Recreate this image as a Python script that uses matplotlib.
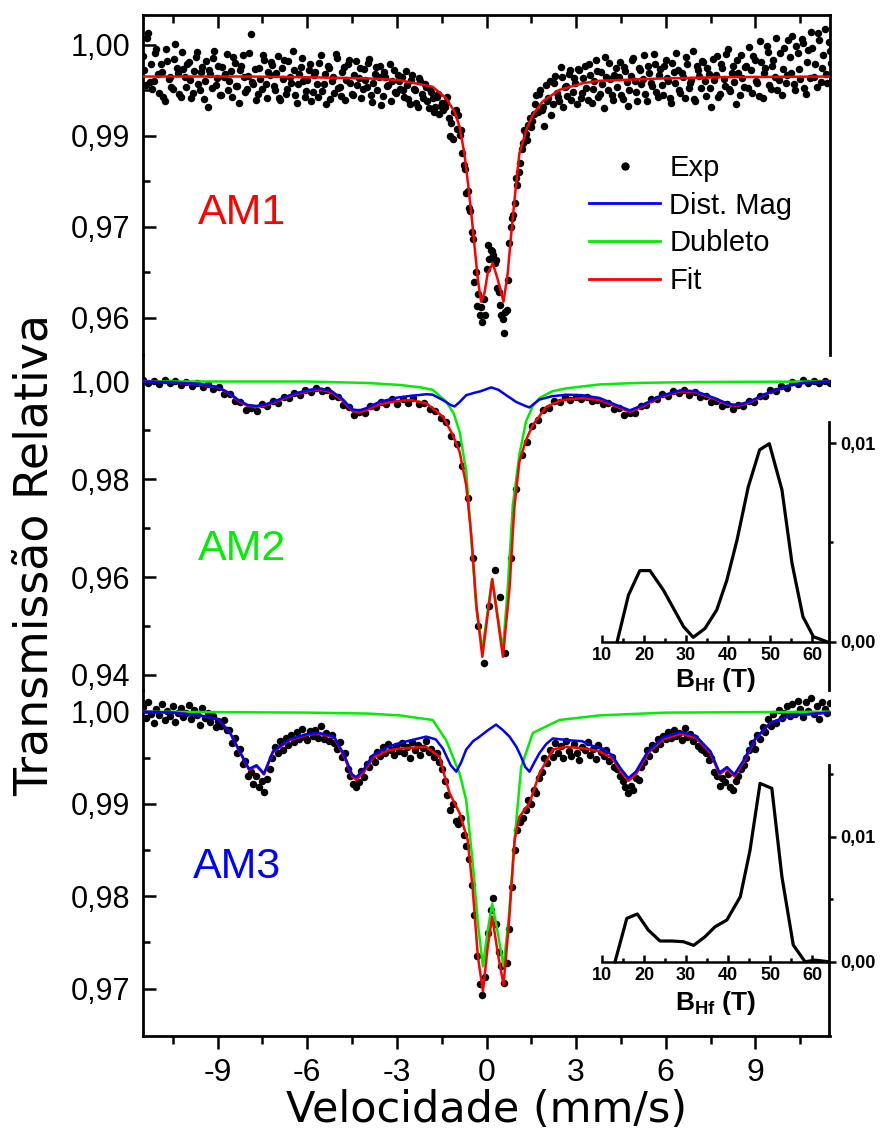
import numpy as np
import matplotlib
matplotlib.use("Agg")
import matplotlib.pyplot as plt
from matplotlib.lines import Line2D

plt.rcParams['font.family'] = ['Liberation Sans', 'DejaVu Sans']
plt.rcParams['mathtext.fontset'] = 'custom'
plt.rcParams['mathtext.rm'] = 'Liberation Sans'
plt.rcParams['mathtext.bf'] = 'Liberation Sans:bold'

# ---------------- data ----------------
VEL_MIN, VEL_MAX = -11.5, 11.5

# AM1 experimental: two halves of the unfolded spectrum (256 channels each)
am1_exp_a = [
 0.9981, 0.9934, 1.0020, 0.9968, 0.9941, 0.9994, 0.9921, 0.9956, 0.9908, 0.9974, 0.9948, 0.9928, 1.0001, 0.9954, 0.9914, 0.9961,
 0.9930, 0.9972, 0.9912, 0.9957, 0.9988, 0.9925, 0.9963, 0.9940, 0.9898, 0.9952, 0.9979, 0.9934, 0.9966, 0.9918, 0.9947, 0.9985,
 0.9941, 0.9915, 0.9970, 0.9932, 0.9958, 0.9984, 0.9922, 0.9949, 1.0018, 0.9936, 0.9910, 0.9962, 0.9928, 0.9975, 0.9913, 0.9951,
 0.9967, 0.9926, 0.9981, 0.9909, 0.9944, 0.9919, 0.9973, 0.9938, 0.9959, 0.9905, 0.9952, 0.9978, 0.9915, 0.9942, 0.9969, 0.9923,
 0.9956, 0.9914, 0.9983, 0.9935, 0.9903, 0.9962, 0.9940, 0.9921, 0.9979, 0.9931, 0.9955, 0.9910, 0.9968, 0.9937, 0.9918, 0.9974,
 0.9945, 0.9912, 0.9960, 0.9930, 0.9977, 0.9906, 0.9952, 0.9925, 0.9966, 0.9916, 0.9948, 0.9934, 0.9908, 0.9958, 0.9921, 0.9941,
 0.9948, 0.9915, 0.9934, 0.9903, 0.9951, 0.9925, 0.9898, 0.9940, 0.9912, 0.9930, 0.9896, 0.9922, 0.9890, 0.9914, 0.9886, 0.9905,
 0.9898, 0.9915, 0.9850, 0.9845, 0.9893, 0.9885, 0.9860, 0.9802, 0.9756, 0.9731, 0.9692, 0.9610, 0.9569, 0.9555, 0.9544, 0.9555,
 0.9670, 0.9662, 0.9654, 0.9646, 0.9593, 0.9555, 0.9525, 0.9563, 0.9673, 0.9714, 0.9739, 0.9769, 0.9805, 0.9838, 0.9854, 0.9868,
 0.9865, 0.9887, 0.9917, 0.9920, 0.9893, 0.9866, 0.9908, 0.9941, 0.9902, 0.9949, 0.9915, 0.9963, 0.9898, 0.9932, 0.9952, 0.9910,
 0.9945, 0.9903, 0.9958, 0.9921, 0.9966, 0.9909, 0.9950, 0.9928, 0.9975, 0.9915, 0.9955, 0.9896, 0.9947, 0.9970, 0.9918, 0.9951,
 0.9930, 0.9972, 0.9911, 0.9957, 0.9900, 0.9949, 0.9979, 0.9923, 0.9962, 0.9935, 0.9984, 0.9907, 0.9953, 0.9932, 0.9969, 0.9915,
 0.9961, 0.9918, 0.9976, 0.9940, 0.9904, 0.9955, 0.9986, 0.9926, 0.9953, 0.9912, 0.9968, 0.9937, 0.9990, 0.9908, 0.9958, 0.9929,
 0.9972, 0.9916, 0.9952, 0.9898, 0.9943, 0.9981, 0.9920, 0.9962, 0.9933, 0.9994, 0.9924, 0.9965, 0.9903, 0.9954, 0.9983, 0.9931,
 0.9966, 0.9997, 0.9921, 0.9975, 0.9938, 1.0006, 0.9912, 0.9962, 0.9988, 0.9928, 0.9976, 1.0012, 0.9942, 0.9917, 0.9995, 0.9951,
 0.9980, 1.0015, 0.9926, 0.9986, 0.9944, 1.0004, 0.9920, 0.9992, 1.0022, 0.9948, 0.9931, 1.0008, 0.9962, 1.0026, 0.9938, 0.9990]

am1_exp_b = [
 0.9958, 1.0012, 0.9939, 0.9927, 0.9986, 0.9952, 0.9969, 0.9915, 0.9993, 0.9944, 0.9931, 0.9977, 0.9962, 0.9920, 0.9989, 0.9947,
 0.9968, 0.9943, 0.9921, 0.9980, 0.9936, 0.9955, 0.9911, 0.9974, 0.9959, 0.9929, 0.9990, 0.9946, 0.9917, 0.9963, 0.9952, 0.9926,
 0.9957, 0.9980, 0.9932, 0.9904, 0.9965, 0.9948, 0.9927, 0.9986, 0.9939, 0.9961, 0.9920, 0.9944, 0.9983, 0.9935, 0.9956, 0.9972,
 0.9933, 0.9954, 0.9912, 0.9962, 0.9975, 0.9927, 0.9947, 0.9990, 0.9918, 0.9936, 0.9964, 0.9941, 0.9924, 0.9958, 0.9907, 0.9950,
 0.9935, 0.9971, 0.9924, 0.9952, 0.9966, 0.9911, 0.9947, 0.9985, 0.9929, 0.9916, 0.9963, 0.9942, 0.9976, 0.9920, 0.9951, 0.9934,
 0.9962, 0.9927, 0.9943, 0.9971, 0.9918, 0.9938, 0.9964, 0.9947, 0.9901, 0.9955, 0.9933, 0.9969, 0.9941, 0.9922, 0.9950, 0.9928,
 0.9925, 0.9957, 0.9911, 0.9942, 0.9928, 0.9904, 0.9946, 0.9919, 0.9935, 0.9908, 0.9927, 0.9913, 0.9898, 0.9920, 0.9900, 0.9893,
 0.9904, 0.9880, 0.9872, 0.9890, 0.9861, 0.9852, 0.9822, 0.9795, 0.9760, 0.9726, 0.9680, 0.9625, 0.9590, 0.9568, 0.9582, 0.9630,
 0.9648, 0.9660, 0.9641, 0.9600, 0.9572, 0.9548, 0.9560, 0.9612, 0.9700, 0.9720, 0.9780, 0.9790, 0.9829, 0.9860, 0.9843, 0.9880,
 0.9875, 0.9902, 0.9889, 0.9926, 0.9897, 0.9934, 0.9912, 0.9885, 0.9938, 0.9921, 0.9908, 0.9947, 0.9930, 0.9916, 0.9958, 0.9923,
 0.9937, 0.9960, 0.9912, 0.9945, 0.9929, 0.9968, 0.9904, 0.9941, 0.9957, 0.9919, 0.9936, 0.9980, 0.9925, 0.9944, 0.9910, 0.9962,
 0.9948, 0.9917, 0.9964, 0.9939, 0.9926, 0.9975, 0.9941, 0.9908, 0.9958, 0.9944, 0.9919, 0.9966, 0.9937, 0.9985, 0.9923, 0.9950,
 0.9934, 0.9966, 0.9945, 0.9913, 0.9971, 0.9938, 0.9959, 0.9921, 0.9948, 0.9980, 0.9929, 0.9943, 0.9911, 0.9965, 0.9949, 0.9973,
 0.9940, 0.9962, 0.9929, 0.9977, 0.9950, 0.9914, 0.9968, 0.9944, 0.9985, 0.9927, 0.9953, 0.9939, 0.9976, 0.9918, 0.9946, 0.9964,
 0.9929, 0.9958, 0.9981, 0.9940, 0.9916, 0.9972, 0.9953, 0.9999, 0.9934, 0.9965, 0.9947, 0.9925, 0.9987, 0.9960, 0.9938, 1.0008,
 0.9953, 0.9935, 0.9998, 0.9961, 1.0010, 0.9929, 0.9972, 0.9946, 0.9995, 0.9968, 1.0019, 0.9939, 0.9983, 0.9952, 1.0005, 0.9970]

am1_fit_v = [-11.5, -8.0, -6.25, -4.0, -2.91, -1.80, -1.35, -1.07, -0.90, -0.74, -0.62, -0.51, -0.40, -0.29, -0.18,
             -0.07, 0.04, 0.21, 0.38, 0.57, 0.71, 0.83, 0.97, 1.10, 1.33, 1.55, 1.88, 2.44, 3.22, 3.78, 6.0, 8.0, 11.5]
am1_fit_t = [0.9948, 0.9948, 0.9947, 0.9945, 0.9942, 0.9931, 0.9912, 0.9890, 0.9865, 0.9821, 0.9772, 0.9723, 0.9668, 0.9613, 0.9577,
             0.9591, 0.9624, 0.9640, 0.9613, 0.9577, 0.9624, 0.9690, 0.9761, 0.9821, 0.9860, 0.9885, 0.9907, 0.9926, 0.9937, 0.9941, 0.9945, 0.9947, 0.9948]

# AM2 experimental (128 channels)
am2_exp = [
 1.0004, 0.9997, 1.0002, 0.9995, 1.0003, 0.9996, 1.0001, 0.9993, 0.9999, 0.9991, 0.9997, 0.9989, 0.9994, 0.9985, 0.9989, 0.9975,
 0.9975, 0.9961, 0.9958, 0.9941, 0.9946, 0.9940, 0.9953, 0.9949, 0.9961, 0.9957, 0.9969, 0.9966, 0.9977, 0.9972, 0.9982, 0.9979,
 0.9987, 0.9980, 0.9983, 0.9971, 0.9969, 0.9952, 0.9948, 0.9931, 0.9937, 0.9936, 0.9949, 0.9947, 0.9958, 0.9953, 0.9964, 0.9955,
 0.9965, 0.9957, 0.9966, 0.9955, 0.9956, 0.9944, 0.9940, 0.9926, 0.9917, 0.9889, 0.9872, 0.9828, 0.9762, 0.9640, 0.9500, 0.9425,
 0.9540, 0.9615, 0.9560, 0.9445, 0.9640, 0.9780, 0.9850, 0.9877, 0.9908, 0.9921, 0.9941, 0.9946, 0.9960, 0.9958, 0.9968, 0.9963,
 0.9969, 0.9964, 0.9968, 0.9960, 0.9963, 0.9953, 0.9956, 0.9944, 0.9946, 0.9932, 0.9936, 0.9935, 0.9950, 0.9951, 0.9965, 0.9964,
 0.9975, 0.9971, 0.9981, 0.9976, 0.9982, 0.9973, 0.9978, 0.9968, 0.9971, 0.9959, 0.9961, 0.9950, 0.9953, 0.9944, 0.9952, 0.9949,
 0.9961, 0.9959, 0.9971, 0.9970, 0.9982, 0.9980, 0.9991, 0.9987, 0.9998, 0.9994, 1.0004, 0.9996, 1.0001, 0.9997, 1.0002, 0.9996]

am2_fit_v = [-11.5, -10.5, -9.6, -9.0, -8.6, -8.3, -8.0, -7.7, -7.4, -7.0, -6.5, -6.0, -5.6, -5.2, -4.8, -4.5, -4.25, -4.0,
             -3.6, -3.0, -2.5, -2.0, -1.8, -1.46, -1.13, -0.90, -0.68, -0.51, -0.34, -0.14, 0.19, 0.55, 0.77, 0.93, 1.10,
             1.32, 1.55, 2.0, 2.5, 3.2, 3.8, 4.3, 4.8, 5.2, 5.8, 6.5, 7.0, 7.6, 8.1, 8.4, 8.8, 9.4, 10.0, 10.6, 11.5]
am2_fit_t = [1.0000, 0.9998, 0.9994, 0.9988, 0.9975, 0.9960, 0.9950, 0.9948, 0.9951, 0.9960, 0.9972, 0.9980, 0.9984, 0.9978,
             0.9960, 0.9940, 0.9937, 0.9942, 0.9953, 0.9960, 0.9962, 0.9955, 0.9945, 0.9928, 0.9891, 0.9856, 0.9788, 0.9686,
             0.9543, 0.9437, 0.9596, 0.9437, 0.9577, 0.9741, 0.9836, 0.9880, 0.9911, 0.9948, 0.9962, 0.9966, 0.9962, 0.9950,
             0.9938, 0.9948, 0.9968, 0.9980, 0.9978, 0.9965, 0.9952, 0.9950, 0.9957, 0.9975, 0.9990, 0.9997, 1.0000]

am2_mag_v = [-11.5, -10.5, -9.6, -9.0, -8.6, -8.3, -8.0, -7.7, -7.4, -7.0, -6.5, -6.0, -5.6, -5.2, -4.8, -4.5, -4.25, -4.0,
             -3.6, -3.0, -2.5, -2.0, -1.8, -1.46, -1.2, -1.07, -0.9, -0.68, -0.4, -0.2, 0.16, 0.4, 0.66, 1.0, 1.3, 1.44,
             1.6, 1.77, 2.2, 2.7, 3.2, 3.8, 4.3, 4.8, 5.2, 5.8, 6.5, 7.0, 7.6, 8.1, 8.4, 8.8, 9.4, 10.0, 10.6, 11.5]
am2_mag_t = [1.0000, 0.9998, 0.9995, 0.9989, 0.9976, 0.9962, 0.9952, 0.9950, 0.9953, 0.9962, 0.9974, 0.9982, 0.9986, 0.9981,
             0.9963, 0.9943, 0.9941, 0.9946, 0.9958, 0.9967, 0.9971, 0.9974, 0.9973, 0.9962, 0.9952, 0.9949, 0.9958, 0.9972,
             0.9977, 0.9980, 0.9988, 0.9983, 0.9972, 0.9958, 0.9950, 0.9947, 0.9955, 0.9963, 0.9970, 0.9973, 0.9972, 0.9966,
             0.9953, 0.9941, 0.9951, 0.9970, 0.9982, 0.9980, 0.9967, 0.9954, 0.9952, 0.9959, 0.9976, 0.9990, 0.9997, 1.0000]

am2_dub_v = [-11.5, -6.0, -4.0, -2.91, -2.2, -1.8, -1.35, -1.1, -0.9, -0.68, -0.51, -0.34, -0.14, 0.19, 0.55, 0.71, 0.88,
             1.10, 1.32, 1.55, 1.77, 2.2, 2.67, 3.78, 5.0, 7.0, 11.5]
am2_dub_t = [1.0000, 1.0000, 0.9997, 0.9993, 0.9988, 0.9983, 0.9959, 0.9935, 0.9897, 0.9816, 0.9679, 0.9536, 0.9451, 0.9596,
             0.9451, 0.9578, 0.9747, 0.9850, 0.9918, 0.9950, 0.9966, 0.9980, 0.9986, 0.9994, 0.9997, 0.9999, 1.0000]

am2_bhf = [13.6, 16.3, 19.0, 21.4, 24.6, 29.4, 31.7, 34.5, 37.3, 39.7, 42.1, 44.8, 47.5, 49.8, 52.8, 55.2, 57.8, 60.3, 63.5]
am2_prob = [0.0, 0.00235, 0.00358, 0.00358, 0.0026, 0.00076, 0.00022, 0.00067, 0.0016, 0.0031, 0.0051, 0.0078, 0.00966,
            0.00997, 0.00765, 0.00395, 0.00126, 0.00025, 0.0]

# AM3 experimental (256 channels)
am3_exp = [
 1.0005, 0.9993, 1.0010, 0.9998, 0.9988, 1.0003, 0.9996, 1.0008, 0.9991, 1.0001, 0.9995, 1.0006, 0.9989, 0.9999, 1.0004, 0.9994,
 0.9999, 1.0007, 0.9992, 1.0002, 0.9996, 0.9986, 1.0004, 0.9993, 0.9999, 0.9989, 0.9995, 0.9983, 0.9990, 0.9985, 0.9991, 0.9980,
 0.9980, 0.9966, 0.9971, 0.9955, 0.9960, 0.9943, 0.9947, 0.9930, 0.9935, 0.9922, 0.9930, 0.9918, 0.9925, 0.9913, 0.9927, 0.9938,
 0.9950, 0.9962, 0.9955, 0.9968, 0.9959, 0.9971, 0.9964, 0.9975, 0.9967, 0.9978, 0.9970, 0.9981, 0.9973, 0.9969, 0.9979, 0.9974,
 0.9980, 0.9972, 0.9984, 0.9970, 0.9977, 0.9968, 0.9975, 0.9966, 0.9960, 0.9967, 0.9951, 0.9955, 0.9938, 0.9930, 0.9922, 0.9918,
 0.9924, 0.9936, 0.9929, 0.9943, 0.9940, 0.9950, 0.9946, 0.9956, 0.9952, 0.9962, 0.9955, 0.9965, 0.9958, 0.9953, 0.9963, 0.9957,
 0.9966, 0.9955, 0.9962, 0.9950, 0.9967, 0.9958, 0.9964, 0.9953, 0.9961, 0.9968, 0.9956, 0.9960, 0.9951, 0.9955, 0.9945, 0.9938,
 0.9925, 0.9910, 0.9893, 0.9900, 0.9882, 0.9878, 0.9885, 0.9866, 0.9855, 0.9840, 0.9812, 0.9780, 0.9735, 0.9705, 0.9693, 0.9712,
 0.9760, 0.9785, 0.9798, 0.9770, 0.9740, 0.9724, 0.9706, 0.9728, 0.9765, 0.9810, 0.9850, 0.9872, 0.9880, 0.9885, 0.9893, 0.9904,
 0.9900, 0.9915, 0.9912, 0.9928, 0.9935, 0.9950, 0.9944, 0.9958, 0.9951, 0.9966, 0.9955, 0.9963, 0.9950, 0.9968, 0.9957, 0.9952,
 0.9965, 0.9955, 0.9948, 0.9962, 0.9958, 0.9967, 0.9953, 0.9960, 0.9949, 0.9964, 0.9956, 0.9952, 0.9958, 0.9947, 0.9951, 0.9940,
 0.9938, 0.9930, 0.9925, 0.9918, 0.9912, 0.9920, 0.9915, 0.9928, 0.9926, 0.9940, 0.9945, 0.9958, 0.9952, 0.9964, 0.9960, 0.9970,
 0.9965, 0.9974, 0.9970, 0.9978, 0.9972, 0.9980, 0.9974, 0.9977, 0.9969, 0.9982, 0.9973, 0.9976, 0.9968, 0.9971, 0.9963, 0.9960,
 0.9958, 0.9955, 0.9948, 0.9950, 0.9935, 0.9930, 0.9920, 0.9928, 0.9924, 0.9932, 0.9918, 0.9915, 0.9925, 0.9930, 0.9938, 0.9942,
 0.9950, 0.9958, 0.9966, 0.9960, 0.9975, 0.9970, 0.9983, 0.9978, 0.9992, 0.9985, 0.9997, 0.9988, 1.0002, 0.9993, 0.9999, 1.0006,
 0.9995, 1.0008, 0.9998, 1.0012, 1.0003, 0.9994, 1.0010, 1.0001, 1.0015, 0.9997, 1.0006, 0.9992, 1.0011, 1.0003, 0.9999, 1.0009]

am3_fit_v = [-11.5, -10.5, -9.6, -9.0, -8.6, -8.26, -7.95, -7.7, -7.45, -7.15, -6.6, -6.0, -5.6, -5.1, -4.75, -4.5, -4.36,
             -4.1, -3.8, -3.3, -2.91, -2.02, -1.57, -1.4, -1.24, -0.9, -0.63, -0.46, -0.29, -0.12, 0.04, 0.19, 0.38, 0.57,
             0.75, 0.94, 1.10, 1.44, 1.77, 2.22, 2.67, 3.33, 3.78, 4.2, 4.5, 4.75, 5.0, 5.4, 5.9, 6.5, 7.0, 7.5, 7.8, 8.05,
             8.3, 8.6, 9.0, 9.5, 10.2, 11.5]
am3_fit_t = [1.0000, 0.9999, 0.9996, 0.9992, 0.9978, 0.9956, 0.9937, 0.9941, 0.9932, 0.9956, 0.9969, 0.9975, 0.9976, 0.9972,
             0.9950, 0.9930, 0.9926, 0.9935, 0.9950, 0.9958, 0.9960, 0.9962, 0.9951, 0.9930, 0.9912, 0.9890, 0.9861, 0.9807,
             0.9735, 0.9697, 0.9745, 0.9778, 0.9738, 0.9704, 0.9771, 0.9861, 0.9886, 0.9901, 0.9933, 0.9959, 0.9962, 0.9960,
             0.9957, 0.9950, 0.9935, 0.9925, 0.9932, 0.9955, 0.9970, 0.9976, 0.9972, 0.9955, 0.9932, 0.9938, 0.9930, 0.9945,
             0.9970, 0.9988, 0.9996, 0.9999]

am3_mag_v = [-11.5, -10.5, -9.6, -9.0, -8.6, -8.26, -7.95, -7.7, -7.45, -7.15, -6.6, -6.0, -5.6, -5.1, -4.75, -4.5, -4.36,
             -4.1, -3.8, -3.3, -2.91, -2.4, -2.02, -1.7, -1.46, -1.2, -1.01, -0.85, -0.68, -0.45, -0.23, 0.05, 0.32, 0.55,
             0.77, 1.0, 1.16, 1.3, 1.44, 1.6, 1.77, 2.0, 2.22, 2.78, 3.2, 3.55, 3.9, 4.2, 4.5, 4.75, 5.0, 5.4, 5.9, 6.5, 7.0,
             7.5, 7.8, 8.05, 8.3, 8.6, 9.0, 9.5, 10.2, 11.5]
am3_mag_t = [1.0000, 0.9999, 0.9996, 0.9992, 0.9978, 0.9957, 0.9938, 0.9942, 0.9933, 0.9957, 0.9970, 0.9976, 0.9977, 0.9973,
             0.9952, 0.9932, 0.9929, 0.9938, 0.9953, 0.9962, 0.9966, 0.9970, 0.9973, 0.9970, 0.9960, 0.9942, 0.9935, 0.9945,
             0.9959, 0.9968, 0.9973, 0.9980, 0.9986, 0.9980, 0.9973, 0.9962, 0.9951, 0.9940, 0.9935, 0.9945, 0.9955, 0.9965,
             0.9971, 0.9969, 0.9968, 0.9963, 0.9960, 0.9953, 0.9938, 0.9928, 0.9935, 0.9957, 0.9972, 0.9978, 0.9974, 0.9957,
             0.9934, 0.9940, 0.9932, 0.9947, 0.9971, 0.9988, 0.9996, 0.9999]

am3_dub_v = [-11.5, -6.0, -4.0, -2.91, -1.8, -1.35, -0.9, -0.68, -0.46, -0.29, -0.12, 0.04, 0.19, 0.38, 0.57, 0.75, 0.94,
             1.16, 1.55, 2.44, 3.78, 6.0, 11.5]
am3_dub_t = [1.0000, 0.9999, 0.9998, 0.9996, 0.9991, 0.9969, 0.9933, 0.9904, 0.9836, 0.9771, 0.9724, 0.9763, 0.9792, 0.9760,
             0.9724, 0.9778, 0.9861, 0.9940, 0.9977, 0.9991, 0.9996, 0.9999, 1.0000]

am3_bhf = [13.1, 15.9, 18.4, 21.0, 23.8, 26.6, 29.4, 31.8, 34.5, 36.9, 39.7, 42.9, 45.2, 47.6, 50.4, 52.8, 55.5, 58.3, 60.7, 63.9]
am3_prob = [0.0, 0.00347, 0.00382, 0.00254, 0.00166, 0.00166, 0.0016, 0.00131, 0.002, 0.0028, 0.00334, 0.0052, 0.0089,
            0.01427, 0.01387, 0.0068, 0.00134, 0.0, 0.00013, 0.0]

# tick labels
x_ticks = [-9, -6, -3, 0, 3, 6, 9]
x_ticklabels = ['-9', '-6', '-3', '0', '3', '6', '9']
am1_yticks = [1.000, 0.985, 0.970, 0.955]
am1_yticklabels = ['1,00', '0,99', '0,97', '0,96']
am2_yticks = [1.00, 0.98, 0.96, 0.94]
am2_yticklabels = ['1,00', '0,98', '0,96', '0,94']
am3_yticks = [1.00, 0.99, 0.98, 0.97]
am3_yticklabels = ['1,00', '0,99', '0,98', '0,97']
inset_xticks = [10, 20, 30, 40, 50, 60]
inset_yticks = [0.0, 0.01]
inset_yticklabels = ['0,00', '0,01']

RED, BLUE, GREEN = '#ff0000', '#0000ff', '#00ee00'

# ---------------- figure ----------------
W, H = 885, 1144
fig = plt.figure(figsize=(W / 100, H / 100), dpi=100)


def rect(x0, y0, x1, y1):
    return [x0 / W, 1 - y1 / H, (x1 - x0) / W, (y1 - y0) / H]


def fxy(x, y):
    return (x / W, 1 - y / H)


ax1 = fig.add_axes(rect(143, 15, 830, 355))
ax2 = fig.add_axes(rect(143, 355, 830, 690))
ax3 = fig.add_axes(rect(143, 690, 830, 1036))

LW = 1.8
MS = 5.4
for ax in (ax1, ax2, ax3):
    ax.set_facecolor('none')
    ax.set_xlim(VEL_MIN, VEL_MAX)
    for s in ax.spines.values():
        s.set_linewidth(2.0)
    ax.tick_params(axis='y', which='major', direction='in', length=9.5, width=1.8, labelsize=22, pad=9)
    ax.tick_params(axis='y', which='minor', direction='in', length=5, width=1.8)
    ax.tick_params(axis='x', which='major', direction='out', length=9.5, width=1.8, labelsize=23, pad=6)
    ax.tick_params(axis='x', which='minor', direction='out', length=6, width=1.8)

# AM1
v1 = np.linspace(VEL_MIN, VEL_MAX, len(am1_exp_a))
half_step = (v1[1] - v1[0]) / 2
ax1.plot(v1, am1_exp_a, 'o', color='k', ms=MS, mew=0, zorder=2)
ax1.plot(v1 + half_step, am1_exp_b, 'o', color='k', ms=MS, mew=0, zorder=2)
ax1.plot(am1_fit_v, am1_fit_t, color=RED, lw=LW, zorder=3)
ax1.set_ylim(0.9489, 1.00494)
ax1.set_yticks(am1_yticks)
ax1.set_yticklabels(am1_yticklabels)
ax1.set_yticks([0.9925, 0.9775, 0.9625], minor=True)
ax1.spines['bottom'].set_visible(False)
ax1.xaxis.set_ticks_position('top')
ax1.set_xticks(x_ticks)
ax1.set_xticks([-10.5, -7.5, -4.5, -1.5, 1.5, 4.5, 7.5, 10.5], minor=True)
ax1.tick_params(axis='x', which='both', direction='in', labeltop=False, labelbottom=False)

# AM2
v2 = np.linspace(VEL_MIN, VEL_MAX, len(am2_exp))
ax2.plot(v2, am2_exp, 'o', color='k', ms=MS, mew=0, zorder=2)
ax2.plot(am2_dub_v, am2_dub_t, color=GREEN, lw=LW, zorder=3)
ax2.plot(am2_fit_v, am2_fit_t, color=RED, lw=LW, zorder=4)
ax2.plot(am2_mag_v, am2_mag_t, color=BLUE, lw=LW, zorder=5)
ax2.set_ylim(0.93691, 1.00542)
ax2.set_yticks(am2_yticks)
ax2.set_yticklabels(am2_yticklabels)
ax2.set_yticks([0.99, 0.97, 0.95], minor=True)
for s in ('top', 'bottom', 'right'):
    ax2.spines[s].set_visible(False)
ax2.set_xticks([])

# AM3
v3 = np.linspace(VEL_MIN, VEL_MAX, len(am3_exp))
ax3.plot(v3, am3_exp, 'o', color='k', ms=MS, mew=0, zorder=2)
ax3.plot(am3_dub_v, am3_dub_t, color=GREEN, lw=LW, zorder=3)
ax3.plot(am3_fit_v, am3_fit_t, color=RED, lw=LW, zorder=4)
ax3.plot(am3_mag_v, am3_mag_t, color=BLUE, lw=LW, zorder=5)
ax3.set_ylim(0.96486, 1.00235)
ax3.set_yticks(am3_yticks)
ax3.set_yticklabels(am3_yticklabels)
ax3.set_yticks([0.995, 0.985, 0.975], minor=True)
ax3.spines['top'].set_visible(False)
ax3.spines['right'].set_visible(False)
ax3.set_xticks(x_ticks)
ax3.set_xticklabels(x_ticklabels)
ax3.set_xticks([-10.5, -7.5, -4.5, -1.5, 1.5, 4.5, 7.5, 10.5], minor=True)

# sample labels
fig.text(*fxy(198, 213), 'AM1', color=RED, fontsize=31, ha='left', va='center')
fig.text(*fxy(198, 549), 'AM2', color=GREEN, fontsize=31, ha='left', va='center')
fig.text(*fxy(193, 867), 'AM3', color=BLUE, fontsize=31, ha='left', va='center')

# legend
handles = [Line2D([], [], ls='none', marker='o', color='k', ms=5),
           Line2D([], [], color=BLUE, lw=2.0),
           Line2D([], [], color=GREEN, lw=2.0),
           Line2D([], [], color=RED, lw=2.0)]
labels = ['Exp', 'Dist. Mag', 'Dubleto', 'Fit']
ax1.legend(handles, labels, loc='upper left', bbox_to_anchor=fxy(589, 154), bbox_transform=fig.transFigure,
           frameon=False, fontsize=21, handlelength=2.45, handletextpad=0.3, labelspacing=0.33,
           borderpad=0, borderaxespad=0)

# axis labels
fig.text(*fxy(487, 1110), 'Velocidade (mm/s)', family='DejaVu Sans', fontsize=31, ha='center', va='center')
fig.text(*fxy(35, 555), 'Transmissão Relativa', family='DejaVu Sans', fontsize=33, ha='center', va='center',
         rotation=90)


# insets
def make_inset(r, bhf, prob, ylim, minor_y):
    ax = fig.add_axes(r)
    ax.set_facecolor('none')
    ax.plot(bhf, prob, color='k', lw=2.3)
    ax.set_xlim(10, 64)
    ax.set_ylim(*ylim)
    ax.spines['left'].set_visible(False)
    ax.spines['top'].set_visible(False)
    ax.spines['right'].set_linewidth(2.0)
    ax.spines['bottom'].set_linewidth(1.8)
    ax.spines['bottom'].set_position(('data', 0.0))
    ax.spines['bottom'].set_bounds(10, 64)
    ax.yaxis.tick_right()
    ax.set_yticks(inset_yticks)
    ax.set_yticklabels(inset_yticklabels)
    ax.set_yticks(minor_y, minor=True)
    ax.set_xticks(inset_xticks)
    ax.set_xticks([15, 25, 35, 45, 55], minor=True)
    ax.tick_params(axis='y', which='major', direction='out', length=5, width=1.8, labelsize=13, pad=3)
    ax.tick_params(axis='y', which='minor', direction='out', length=3, width=1.8)
    ax.tick_params(axis='x', which='major', direction='in', length=5, width=1.8, labelsize=13, pad=4)
    ax.tick_params(axis='x', which='minor', direction='in', length=3, width=1.8)
    for t in ax.get_xticklabels() + ax.get_yticklabels():
        t.set_fontweight('bold')
    return ax


make_inset(rect(602, 422, 829, 690), am2_bhf, am2_prob, (-0.00243, 0.01106), [0.005])
make_inset(rect(602, 765, 829, 1035), am3_bhf, am3_prob, (-0.00586, 0.01574), [0.005, 0.015])

fig.text(*fxy(716, 680), r'$\mathbf{B}_{\mathbf{Hf}}$' + ' (T)', fontsize=19, fontweight='bold', ha='center', va='center')
fig.text(*fxy(716, 1003), r'$\mathbf{B}_{\mathbf{Hf}}$' + ' (T)', fontsize=19, fontweight='bold', ha='center', va='center')

fig.savefig('out.png', dpi=100)
